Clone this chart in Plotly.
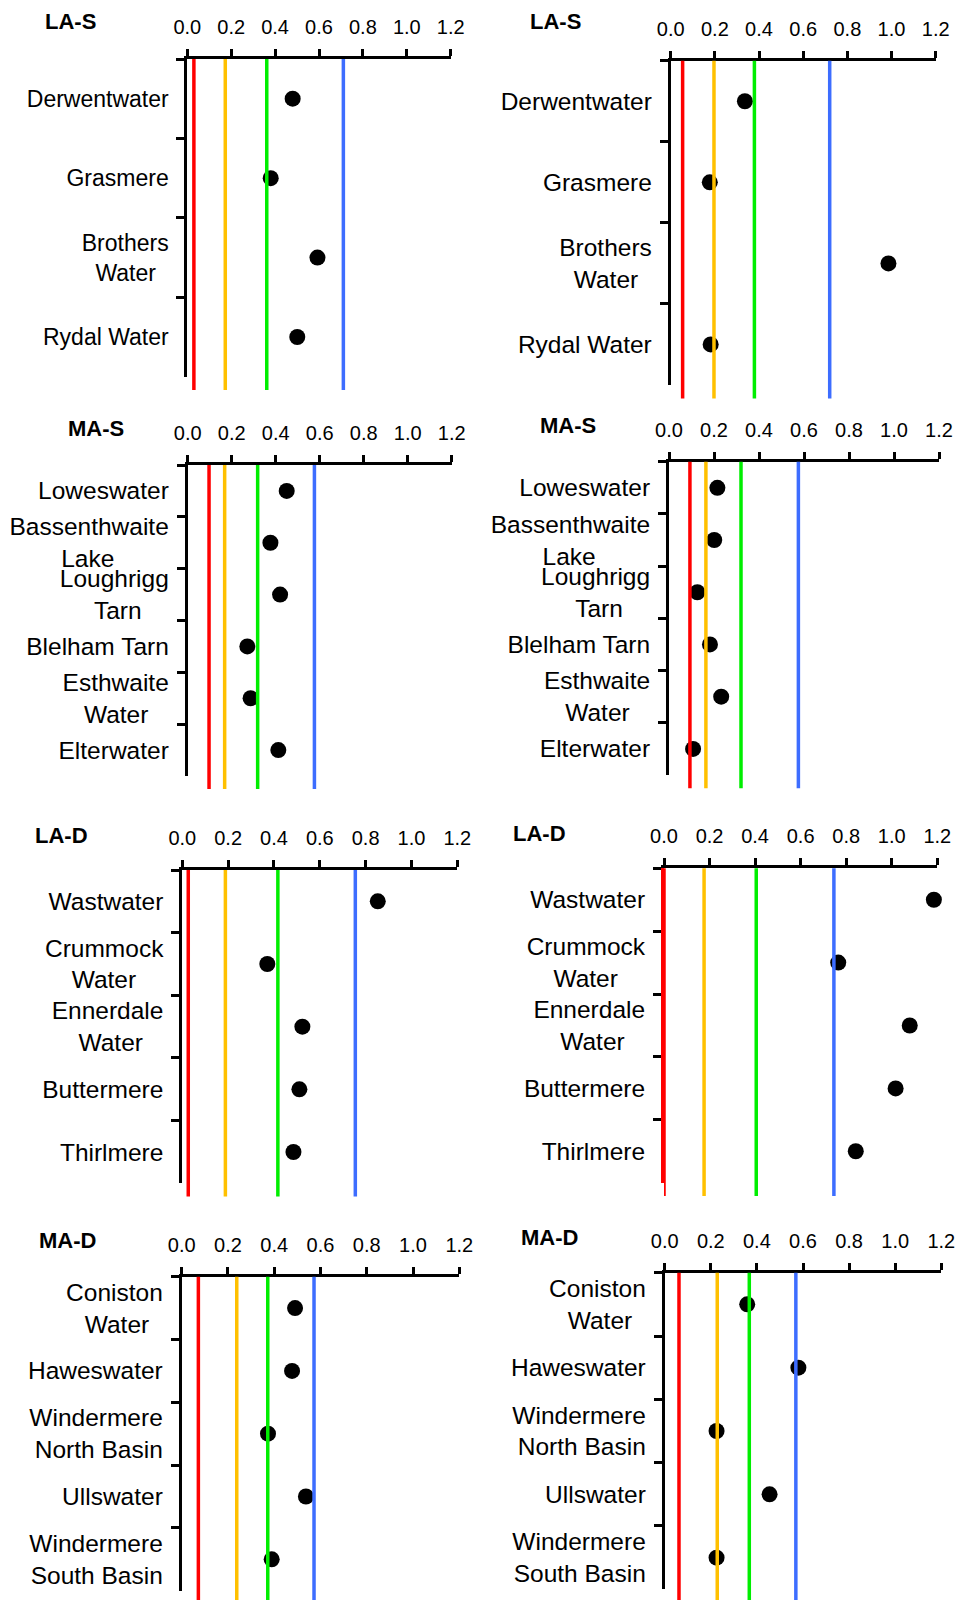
import plotly.graph_objects as go

# ---------------- data ----------------
titles = ["LA-S", "LA-S", "MA-S", "MA-S", "LA-D", "LA-D", "MA-D", "MA-D"]

lakes_la_s = ["Derwentwater", "Grasmere", "Brothers\nWater", "Rydal Water"]
lakes_ma_s = ["Loweswater", "Bassenthwaite\nLake", "Loughrigg\nTarn", "Blelham Tarn",
              "Esthwaite\nWater", "Elterwater"]
lakes_la_d = ["Wastwater", "Crummock\nWater", "Ennerdale\nWater", "Buttermere", "Thirlmere"]
lakes_ma_d = ["Coniston\nWater", "Haweswater", "Windermere\nNorth Basin", "Ullswater",
              "Windermere\nSouth Basin"]

vals_1 = [0.48, 0.38, 0.593, 0.501]
vals_2 = [0.336, 0.177, 0.986, 0.181]
vals_3 = [0.45, 0.376, 0.42, 0.271, 0.286, 0.412]
vals_4 = [0.215, 0.201, 0.126, 0.182, 0.232, 0.107]
vals_5 = [0.853, 0.371, 0.524, 0.511, 0.485]
vals_6 = [1.185, 0.765, 1.079, 1.017, 0.842]
vals_7 = [0.49, 0.477, 0.373, 0.537, 0.389]
vals_8 = [0.358, 0.58, 0.225, 0.455, 0.225]

# reference lines (red, yellow, green, blue)
refs_1 = [0.03, 0.173, 0.362, 0.711]
refs_2 = [0.054, 0.196, 0.379, 0.72]
refs_3 = [0.097, 0.168, 0.318, 0.576]
refs_4 = [0.093, 0.164, 0.32, 0.575]
refs_5 = [0.026, 0.188, 0.417, 0.755]
refs_6 = [0.0, 0.176, 0.405, 0.746]
refs_7 = [0.072, 0.238, 0.372, 0.572]
refs_8 = [0.062, 0.228, 0.367, 0.569]

x_tick_vals = [0.0, 0.2, 0.4, 0.6, 0.8, 1.0, 1.2]
x_tick_text = ["0.0", "0.2", "0.4", "0.6", "0.8", "1.0", "1.2"]

# ---------------- styling / layout ----------------
W, H = 958, 1600
ref_colors = ["#FF0000", "#FFC000", "#00EE00", "#3D6DFF"]

panels = [
    (lakes_la_s, vals_1, refs_1),
    (lakes_la_s, vals_2, refs_2),
    (lakes_ma_s, vals_3, refs_3),
    (lakes_ma_s, vals_4, refs_4),
    (lakes_la_d, vals_5, refs_5),
    (lakes_la_d, vals_6, refs_6),
    (lakes_ma_d, vals_7, refs_7),
    (lakes_ma_d, vals_8, refs_8),
]

# pixel boxes: x at 0.0, x at 1.2, top axis line, bottom tick
boxes = [
    (187.3, 450.7, 59.0, 376.7),
    (670.7, 935.7, 60.7, 385.0),
    (187.7, 451.7, 465.0, 776.0),
    (669.0, 939.0, 461.7, 775.0),
    (182.3, 457.3, 870.0, 1183.3),
    (664.0, 937.3, 868.3, 1182.7),
    (181.7, 459.3, 1276.7, 1590.7),
    (664.7, 941.3, 1272.7, 1589.3),
]
title_pos = [(70.5, 21), (555, 21), (95.5, 428.5), (568, 425),
             (61.5, 835), (539.5, 833.5), (67.5, 1240.5), (549, 1237)]
label_sizes = [23, 24.5, 24.5, 24.5, 24.5, 24.5, 24.5, 24.5]

# approximate Arial advance widths (em/1000) for centring wrapped lines
AW = {' ': 278, '\u00a0': 278, 'a': 556, 'b': 556, 'c': 500, 'd': 556, 'e': 556, 'g': 556,
      'h': 556, 'i': 222, 'k': 500, 'l': 222, 'm': 833, 'n': 556, 'o': 556, 'r': 333,
      's': 500, 't': 278, 'u': 556, 'w': 722, 'y': 500, 'B': 667, 'C': 722, 'E': 667,
      'L': 556, 'N': 722, 'S': 667, 'T': 611, 'W': 944}


def tw(s):
    return sum(AW.get(c, 556) for c in s)


def centred(label):
    lines = label.split("\n")
    if len(lines) == 1:
        return label
    wmax = max(tw(l) for l in lines)
    out = []
    for l in lines:
        n = int(round((wmax - tw(l)) / 2 / 278))
        out.append(l + "\u00a0" * n)
    return "<br>".join(out)


fig = go.Figure()
layout = dict(width=W, height=H,
              margin=dict(l=0, r=0, t=0, b=0, pad=0, autoexpand=False),
              paper_bgcolor="white", plot_bgcolor="white", showlegend=False,
              font=dict(family="Liberation Sans, Arial, sans-serif", color="black"))
annotations = []

for i, ((lakes, vals, refs), box) in enumerate(zip(panels, boxes), start=1):
    x0, x1, yt, yb = box
    sfx = "" if i == 1 else str(i)
    labels = [centred(l) for l in lakes]
    n = len(labels)
    # where a reference line sits on x = 0 it hides the y-axis line
    yline_color = ref_colors[0] if refs[0] <= 0 else "black"
    layout["xaxis" + sfx] = dict(
        domain=[x0 / W, x1 / W], range=[0, 1.2], side="top", anchor="y" + sfx,
        tickvals=x_tick_vals, ticktext=x_tick_text, automargin=False,
        showline=True, linecolor="black", linewidth=3,
        ticks="outside", ticklen=7, tickwidth=3, tickcolor="black",
        showgrid=False, zeroline=False, tickfont=dict(size=20, color="black"),
        ticklabelstandoff=7, fixedrange=True)
    layout["yaxis" + sfx] = dict(
        domain=[1 - yb / H, 1 - yt / H], type="category", automargin=False,
        categoryorder="array", categoryarray=labels, range=[n - 0.5, -0.5],
        tickson="boundaries", ticks="outside", ticklen=8, tickwidth=3,
        tickcolor="black", showline=True, linecolor=yline_color, linewidth=3,
        anchor="x" + sfx, showgrid=False, zeroline=False,
        tickfont=dict(size=label_sizes[i - 1], color="black"),
        ticklabelstandoff=11, fixedrange=True)
    fig.add_trace(go.Scatter(
        x=vals, y=labels, mode="markers", xaxis="x" + sfx, yaxis="y" + sfx,
        marker=dict(size=16, color="black"), cliponaxis=False, hoverinfo="x+y"))
    for v, c in zip(refs, ref_colors):
        fig.add_shape(type="line", xref="x" + sfx, yref="y" + sfx + " domain",
                      x0=v, x1=v, y0=-0.042, y1=1.0,
                      line=dict(color=c, width=3.5), layer="above")
    tx, ty = title_pos[i - 1]
    annotations.append(dict(text=titles[i - 1], x=tx / W, y=1 - ty / H, xref="paper",
                            yref="paper", xanchor="center", yanchor="middle",
                            showarrow=False,
                            font=dict(size=22, weight="bold", color="black")))

layout["annotations"] = annotations
fig.update_layout(**layout)
fig.write_html("out.html")
